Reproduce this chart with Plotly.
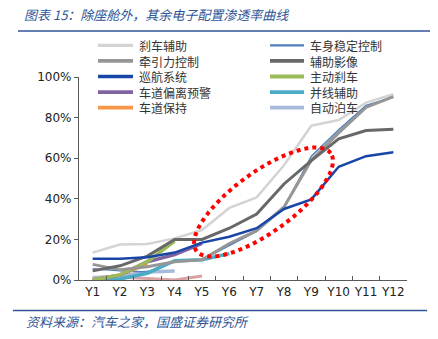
import numpy as np
import plotly.graph_objects as go

W, H = 438, 339
L, R, T, B = 79, 31, 77, 59
PW, PH = W - L - R, H - T - B

years = ["Y1", "Y2", "Y3", "Y4", "Y5", "Y6", "Y7", "Y8", "Y9", "Y10", "Y11", "Y12"]

brake_assist = [13.5, 17.5, 17.7, 20.5, 24.6, 35.5, 40.7, 56.5, 76.0, 78.8, 87.4, 91.5]
esc = [5.5, 4.5, 4.0, 9.5, 10.0, 17.0, 24.0, 35.5, 61.0, 74.0, 86.0, 90.0]
traction = [7.7, 5.0, 6.5, 9.0, 9.9, 18.0, 24.3, 36.0, 59.0, 72.5, 85.0, 90.3]
aux_imaging = [4.5, 7.0, 11.8, 20.0, 20.0, 25.5, 32.5, 47.3, 58.8, 69.5, 73.6, 74.2]
cruise = [10.5, 10.5, 11.2, 13.5, 18.4, 21.3, 25.5, 35.0, 39.7, 55.8, 61.0, 62.9]
aeb = [0.0, 2.5, 9.0, 19.2]
ldw = [0.0, 2.4, 9.0, 12.5, 18.0]
bsd = [0.0, 0.5, 3.3, 9.5, 10.0, 13.0]
lka = [0.0, 2.5, 8.0]
apa = [1.0, 2.0, 4.0, 4.4]
other = [1.3, 1.3, 0.8, 0.0, 2.0]

series = [
    ("刹车辅助", brake_assist, "#D4D4D4", 2.5, True),
    ("车身稳定控制", esc, "#4F81BD", 1.5, True),
    ("牵引力控制", traction, "#969696", 3, True),
    ("辅助影像", aux_imaging, "#686868", 3, True),
    ("巡航系统", cruise, "#1846A8", 2.5, True),
    ("主动刹车", aeb, "#9BBB59", 3.5, True),
    ("车道偏离预警", ldw, "#8064A2", 3.5, True),
    ("并线辅助", bsd, "#4BACC6", 3.5, True),
    ("车道保持", lka, "#F79646", 3.5, True),
    ("自动泊车", apa, "#A7BADB", 3.5, True),
    ("其他", other, "#D9A3A3", 3, False),
]

fig = go.Figure()
draw_order = [10, 9, 1, 7, 8, 6, 5, 0, 2, 3, 4]
for i in draw_order:
    name, vals, col, lw, sl = series[i]
    fig.add_trace(go.Scatter(
        x=years[:len(vals)], y=[v / 100 for v in vals], name=name, mode="lines",
        line=dict(color=col, width=lw), showlegend=False,
    ))


def px2paper_x(px):
    return (px - L) / PW


def px2paper_y(py):
    return (T + PH - py) / PH


# legend drawn as line samples + one multi-line text block per column
LEG_FS = 12
row_gap = LEG_FS * 1.3
mid_row = 76.5
leg_rows = [mid_row + (r - 2) * row_gap for r in range(5)]
leg_cols = [(98, 133, 137), (270, 304, 308)]
legend_items = [s for s in series if s[4]]
col_texts = [[], []]
for k, (name, vals, col, lw, sl) in enumerate(legend_items):
    r, c = divmod(k, 2)
    x0, x1, xt = leg_cols[c]
    yy = px2paper_y(leg_rows[r])
    fig.add_shape(type="line", xref="paper", yref="paper",
                  x0=px2paper_x(x0), x1=px2paper_x(x1), y0=yy, y1=yy,
                  line=dict(color=col, width=min(lw + 0.8, 3.8)))
    col_texts[c].append(name)
for c in range(2):
    fig.add_annotation(text="<br>".join(col_texts[c]), xref="paper", yref="paper",
                       x=px2paper_x(leg_cols[c][2]), y=px2paper_y(mid_row),
                       xanchor="left", yanchor="middle", align="left", showarrow=False,
                       font=dict(family="Noto Sans CJK SC", size=LEG_FS, color="#333333"))

# red dotted ellipse (annotation), defined in pixel space of the plot area
cx_px, cy_px, a_px, b_px, ang = 263.5, 202.0, 83.0, 30.0, np.deg2rad(36.0)
step_px = PW / len(years)
t = np.linspace(0, 2 * np.pi, 120)
ex = cx_px + a_px * np.cos(t) * np.cos(ang) - b_px * np.sin(t) * np.sin(ang)
ey = cy_px - (a_px * np.cos(t) * np.sin(ang) + b_px * np.sin(t) * np.cos(ang))
xi = (ex - L) / step_px - 0.5
yv = (T + PH - ey) / PH
path = "M " + " L ".join(f"{a:.3f},{b:.4f}" for a, b in zip(xi, yv)) + " Z"
fig.add_shape(type="path", path=path, xref="x", yref="y",
              line=dict(color="#FF0000", width=4, dash="dot"))

# header / footer rules
fig.add_shape(type="line", xref="paper", yref="paper",
              x0=px2paper_x(18), x1=px2paper_x(430), y0=px2paper_y(31), y1=px2paper_y(31),
              line=dict(color="#2F5597", width=1.5))
fig.add_shape(type="line", xref="paper", yref="paper",
              x0=px2paper_x(13), x1=px2paper_x(427), y0=px2paper_y(310.5), y1=px2paper_y(310.5),
              line=dict(color="#2F5597", width=1.5))

fig.add_annotation(text="资料来源：汽车之家，国盛证券研究所", xref="paper", yref="paper",
                   x=px2paper_x(24), y=px2paper_y(321), xanchor="left", yanchor="middle",
                   showarrow=False,
                   font=dict(family="Noto Sans CJK SC", size=13, color="#2F5597", style="italic"))

fig.update_layout(
    width=W, height=H,
    margin=dict(l=L, r=R, t=T, b=B, autoexpand=False),
    paper_bgcolor="white", plot_bgcolor="white",
    title=dict(text="图表 15：除座舱外，其余电子配置渗透率曲线",
               x=24 / W, xanchor="left", y=1 - 15 / H, yanchor="middle",
               font=dict(family="Noto Sans CJK SC", size=13, color="#2F5597", style="italic")),
    showlegend=False,
    xaxis=dict(type="category", categoryorder="array", categoryarray=years,
               range=[-0.5, len(years) - 0.5], tickangle=0,
               showline=True, linecolor="#595959", linewidth=1.3,
               ticks="inside", tickson="boundaries", ticklen=4, tickcolor="#595959",
               showgrid=False, zeroline=False,
               tickfont=dict(family="DejaVu Sans", size=12, color="#222222")),
    yaxis=dict(range=[0, 1], tickvals=[0, 0.2, 0.4, 0.6, 0.8, 1.0], tickformat=".0%",
               showline=True, linecolor="#595959", linewidth=1.3,
               ticks="outside", ticklen=4, tickcolor="#595959",
               showgrid=False, zeroline=False,
               tickfont=dict(family="DejaVu Sans", size=12, color="#222222")),
)

fig.write_html("out.html")
